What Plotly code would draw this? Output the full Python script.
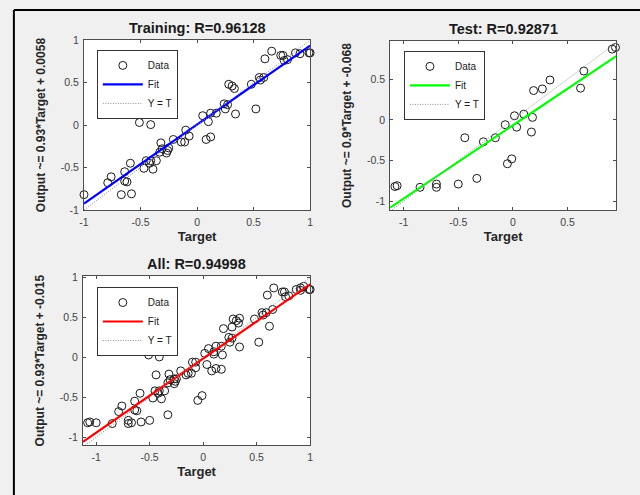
import plotly.graph_objects as go

# ---------------- data ----------------
train_target = [-1.00, -0.79, -0.76, -0.67, -0.64, -0.64, -0.62, -0.59, -0.58, -0.51,
                -0.41, -0.47, -0.45, -0.42, -0.41, -0.39, -0.36, -0.32, -0.31, -0.33,
                -0.26, -0.25, -0.27, -0.21, -0.14, -0.11, -0.10, -0.07, 0.05, 0.08,
                0.10, 0.12, 0.12, 0.17, 0.24, 0.25, 0.27, 0.28, 0.31, 0.33,
                0.34, 0.48, 0.52, 0.55, 0.56, 0.59, 0.60, 0.66, 0.74, 0.76,
                0.77, 0.80, 0.87, 0.91, 0.99, 1.00]
train_output = [-0.82, -0.68, -0.61, -0.82, -0.55, -0.66, -0.67, -0.45, -0.81, 0.03,
                0.005, -0.51, -0.42, -0.45, -0.42, -0.52, -0.42, -0.21, -0.28, -0.32,
                -0.30, -0.27, -0.33, -0.17, -0.20, -0.20, -0.06, -0.13, 0.11, -0.17,
                0.04, 0.14, -0.14, 0.14, 0.25, 0.19, 0.24, 0.48, 0.46, 0.43,
                0.13, 0.48, 0.19, 0.56, 0.53, 0.56, 0.78, 0.87, 0.82, 0.82,
                0.76, 0.77, 0.85, 0.84, 0.85, 0.85]

test_target = [-1.08, -1.06, -0.85, -0.70, -0.70, -0.50, -0.44, -0.33, -0.27, -0.16,
               -0.07, -0.05, -0.01, 0.015, 0.035, 0.10, 0.17, 0.18, 0.19, 0.27,
               0.34, 0.62, 0.65, 0.91, 0.94]
test_output = [-0.82, -0.81, -0.83, -0.79, -0.83, -0.79, -0.22, -0.72, -0.27, -0.22,
               -0.06, -0.54, -0.48, 0.05, -0.09, 0.07, -0.15, 0.03, 0.36, 0.38,
               0.49, 0.39, 0.60, 0.87, 0.89]

all_target = train_target + test_target
all_output = train_output + test_output

# regression fits (from the axis labels)
train_fit = (0.93, 0.0058)
test_fit = (0.9, -0.068)
all_fit = (0.93, -0.015)

panel_titles = ["Training: R=0.96128", "Test: R=0.92871", "All: R=0.94998"]
y_labels = ["Output ~= 0.93*Target + 0.0058",
            "Output ~= 0.9*Target + -0.068",
            "Output ~= 0.93*Target + -0.015"]
x_label = "Target"
fit_colors = ["#0000ff", "#00ff00", "#ff0000"]

train_ticks = [-1, -0.5, 0, 0.5, 1]
test_ticks = [-1, -0.5, 0, 0.5]
all_ticks = [-1, -0.5, 0, 0.5, 1]


def tick_text(vals):
    return [("%g" % v) for v in vals]


# ---------------- layout geometry ----------------
W, H = 640, 495
panels = [
    # (x0px, x1px, y0px(top), y1px(bottom), xlim, ylim, ticks)
    (80, 309, 35, 209, (-1.0, 1.0), (-1.0, 1.0), train_ticks),
    (390, 619, 36, 209, (-1.124, 0.947), (-1.108, 0.968), test_ticks),
    (79, 309, 277, 450, (-1.123, 1.0), (-1.10, 1.016), all_ticks),
]
datasets = [(train_target, train_output, train_fit),
            (test_target, test_output, test_fit),
            (all_target, all_output, all_fit)]
legend_pos = [(93, 45), (404, 46), (93, 288)]

fig = go.Figure()
layout = dict(
    width=W, height=H,
    margin=dict(l=0, r=0, t=0, b=0),
    paper_bgcolor="#f0f0f0",
    plot_bgcolor="white",
    font=dict(family="Liberation Sans, Arial, sans-serif", color="#262626"),
    showlegend=True,
    annotations=[],
    shapes=[],
)

for i, ((x0, x1, yt, yb, xlim, ylim, ticks), (tt, oo, (m, b))) in enumerate(zip(panels, datasets)):
    sfx = "" if i == 0 else str(i + 1)
    xa, ya = "x" + sfx, "y" + sfx
    leg = "legend" + sfx
    fig.add_trace(go.Scatter(
        x=tt, y=oo, mode="markers", name="Data", xaxis=xa, yaxis=ya, legend=leg,
        marker=dict(symbol="circle-open", size=8, color="#1a1a1a", line=dict(width=1)),
        cliponaxis=False,
    ))
    fx = [xlim[0], xlim[1]]
    fig.add_trace(go.Scatter(
        x=fx, y=[m * v + b for v in fx], mode="lines", name="Fit", xaxis=xa, yaxis=ya,
        legend=leg, line=dict(color=fit_colors[i], width=2.2),
    ))
    fig.add_trace(go.Scatter(
        x=fx, y=fx, mode="lines", name="Y = T", xaxis=xa, yaxis=ya, legend=leg,
        line=dict(color="#8c8c8c", width=1, dash="1px,1.5px"),
    ))
    axis_common = dict(
        showline=True, mirror="ticks", linecolor="#4d4d4d", linewidth=1,
        ticks="inside", ticklen=3, tickcolor="#4d4d4d",
        showgrid=False, zeroline=False,
        tickfont=dict(size=10.5, color="#444444"),
        tickvals=ticks, ticktext=tick_text(ticks),
    )
    layout["xaxis" + sfx] = dict(
        axis_common, domain=[x0 / W, x1 / W], range=list(xlim), anchor=ya,
        ticklabelstandoff=2,
        title=dict(text="<b>%s</b>" % x_label, font=dict(size=13, color="#262626"), standoff=5),
    )
    layout["yaxis" + sfx] = dict(
        axis_common, domain=[1 - yb / H, 1 - yt / H], range=list(ylim), anchor=xa,
        ticklabelstandoff=2,
        title=dict(text="<b>%s</b>" % y_labels[i], font=dict(size=12, color="#262626"), standoff=12),
    )
    lx, ly = legend_pos[i]
    layout[leg] = dict(
        x=lx / W, y=1 - ly / H, xanchor="left", yanchor="top",
        bgcolor="white", bordercolor="#333333", borderwidth=1,
        font=dict(size=10, color="#1a1a1a"), tracegroupgap=0, itemwidth=40,
    )
    layout["annotations"].append(dict(
        text="<b>%s</b>" % panel_titles[i], xref="paper", yref="paper",
        x=(x0 + x1) / 2 / W, y=1 - (yt - 2) / H, xanchor="center", yanchor="bottom",
        showarrow=False, font=dict(size=14.5, color="#1a1a1a"),
    ))

# outer black frame (left and top edges visible)
layout["shapes"] += [
    dict(type="line", xref="paper", yref="paper", x0=9 / W, x1=9 / W, y0=-0.05, y1=1 - 4 / H,
         line=dict(color="black", width=2)),
    dict(type="line", xref="paper", yref="paper", x0=9 / W, x1=1.05, y0=1 - 4 / H, y1=1 - 4 / H,
         line=dict(color="black", width=2)),
]

fig.update_layout(**layout)
fig.write_html("out.html", config={"displayModeBar": False},
               post_script="document.body.style.margin='0';document.body.style.overflow='hidden';")
